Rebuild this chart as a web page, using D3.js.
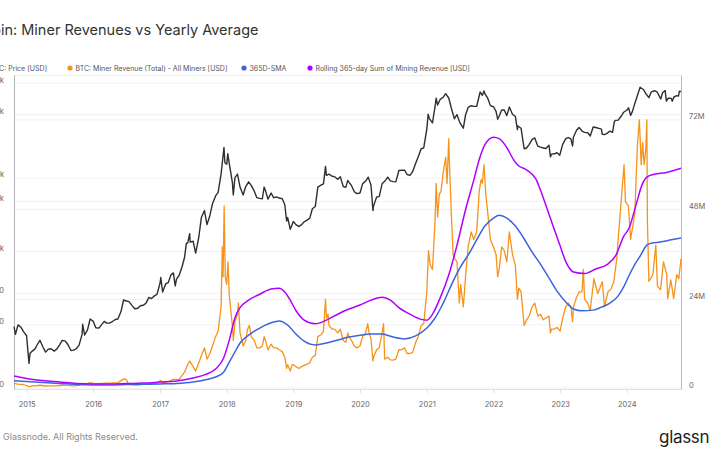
<!DOCTYPE html>
<html><head><meta charset="utf-8">
<script src="https://cdn.jsdelivr.net/npm/d3@7"></script>
<style>body{margin:0;background:#fff;} svg{display:block;font-family:Inter,"Open Sans",sans-serif;}</style>
</head><body><svg id="c" width="710" height="458"></svg>
<script>
const chartTitle = "Bitcoin: Miner Revenues vs Yearly Average";
const footerText = "© 2024 Glassnode. All Rights Reserved.";
const seriesNames = ["BTC: Price [USD]", "BTC: Miner Revenue (Total) - All Miners [USD]", "365D-SMA", "Rolling 365-day Sum of Mining Revenue [USD]"];
const priceTicks = [100, 400, 800, 2000, 6000, 10000, 40000, 80000];
const priceTickLabels = ["100", "400", "800", "2k", "6k", "10k", "40k", "80k"];
const revenueTicks = [0, 24e6, 48e6, 72e6];
const revenueTickLabels = ["0", "24M", "48M", "72M"];
const yearTicks = ["2015","2016","2017","2018","2019","2020","2021","2022","2023","2024"];

// BTC price (USD)
const priceData = [
["2014-10-24",385],["2014-11-01",325],["2014-11-15",400],["2014-12-01",380],["2014-12-15",345],
["2015-01-01",315],["2015-01-14",172],["2015-01-20",215],["2015-02-01",225],["2015-02-15",235],["2015-03-01",260],["2015-03-15",285],["2015-04-01",245],["2015-04-15",220],["2015-05-01",235],["2015-05-15",237],["2015-06-01",225],["2015-06-15",235],["2015-07-01",258],["2015-07-15",285],["2015-08-01",280],["2015-08-15",260],["2015-09-01",228],["2015-09-15",230],["2015-10-01",238],["2015-10-15",255],["2015-11-01",325],["2015-11-04",405],["2015-11-15",320],["2015-12-01",360],["2015-12-15",455],
["2016-01-01",432],["2016-01-15",375],["2016-02-01",372],["2016-02-15",400],["2016-03-01",432],["2016-03-15",415],["2016-04-01",417],["2016-04-15",430],["2016-05-01",450],["2016-05-15",455],["2016-06-01",535],["2016-06-15",690],["2016-07-01",675],["2016-07-15",665],["2016-08-01",610],["2016-08-15",570],["2016-09-01",575],["2016-09-15",608],["2016-10-01",615],["2016-10-15",640],["2016-11-01",730],["2016-11-15",712],["2016-12-01",755],["2016-12-15",780],
["2017-01-01",1000],["2017-01-05",1130],["2017-01-15",820],["2017-02-01",985],["2017-02-15",1010],["2017-03-01",1190],["2017-03-15",1250],["2017-03-25",940],["2017-04-01",1090],["2017-04-15",1180],["2017-05-01",1420],["2017-05-15",1750],["2017-05-25",2400],["2017-06-01",2400],["2017-06-12",2950],["2017-06-15",2450],["2017-07-01",2500],["2017-07-15",1930],["2017-08-01",2730],["2017-08-15",4200],["2017-09-01",4900],["2017-09-15",3600],["2017-10-01",4400],["2017-10-15",5700],["2017-11-01",6750],["2017-11-15",7300],["2017-12-01",10900],["2017-12-17",19500],["2017-12-22",14000],
["2018-01-01",13500],["2018-01-07",17000],["2018-01-15",13700],["2018-02-01",9100],["2018-02-06",6900],["2018-02-15",10100],["2018-03-01",10900],["2018-03-15",8200],["2018-04-01",6900],["2018-04-15",8300],["2018-05-01",9200],["2018-05-15",8500],["2018-06-01",7500],["2018-06-15",6500],["2018-07-01",6400],["2018-07-15",6350],["2018-07-25",8200],["2018-08-01",7600],["2018-08-15",6300],["2018-09-01",7200],["2018-09-15",6500],["2018-10-01",6600],["2018-10-15",6450],["2018-11-01",6350],["2018-11-15",5600],["2018-11-25",3900],["2018-12-01",4200],["2018-12-15",3250],
["2019-01-01",3850],["2019-01-15",3600],["2019-02-01",3450],["2019-02-15",3600],["2019-03-01",3830],["2019-03-15",3950],["2019-04-01",4150],["2019-04-15",5100],["2019-05-01",5350],["2019-05-15",8200],["2019-06-01",8550],["2019-06-15",8800],["2019-06-26",12900],["2019-07-01",10600],["2019-07-15",10900],["2019-08-01",10400],["2019-08-15",10300],["2019-09-01",9750],["2019-09-15",10300],["2019-10-01",8300],["2019-10-15",8150],["2019-10-26",9500],["2019-11-01",9150],["2019-11-15",8500],["2019-12-01",7400],["2019-12-15",7100],
["2020-01-01",7200],["2020-01-15",8800],["2020-02-01",9350],["2020-02-15",10200],["2020-03-01",8600],["2020-03-12",4900],["2020-03-15",5400],["2020-04-01",6600],["2020-04-15",6650],["2020-05-01",8800],["2020-05-15",9300],["2020-06-01",10200],["2020-06-15",9400],["2020-07-01",9250],["2020-07-15",9200],["2020-08-01",11800],["2020-08-15",11850],["2020-09-01",11900],["2020-09-15",10800],["2020-10-01",10600],["2020-10-15",11500],["2020-11-01",13800],["2020-11-15",15950],["2020-12-01",19000],["2020-12-15",19400],
["2021-01-01",29400],["2021-01-08",40500],["2021-01-15",36800],["2021-02-01",33500],["2021-02-15",48000],["2021-02-21",57500],["2021-03-01",49600],["2021-03-15",56000],["2021-04-01",58800],["2021-04-14",63500],["2021-05-01",57800],["2021-05-15",46400],["2021-06-01",36700],["2021-06-15",40200],["2021-07-01",33500],["2021-07-20",29800],["2021-08-01",39900],["2021-08-15",47000],["2021-09-01",48800],["2021-09-15",48100],["2021-10-01",48200],["2021-10-20",65900],["2021-11-01",61300],["2021-11-10",67500],["2021-11-15",63500],["2021-12-01",57200],["2021-12-15",48900],
["2022-01-01",47700],["2022-01-15",43100],["2022-01-24",36300],["2022-02-01",38700],["2022-02-15",44500],["2022-03-01",44400],["2022-03-15",39300],["2022-03-29",47500],["2022-04-15",40500],["2022-05-01",38500],["2022-05-12",28900],["2022-05-15",31300],["2022-06-01",29800],["2022-06-18",19000],["2022-07-01",19300],["2022-07-15",20800],["2022-08-01",23300],["2022-08-15",24100],["2022-09-01",20100],["2022-09-15",19700],["2022-10-01",19300],["2022-10-15",19100],["2022-11-01",20500],["2022-11-09",15900],["2022-11-15",16900],["2022-12-01",17000],["2022-12-15",17400],["2022-12-30",16500],
["2023-01-15",20900],["2023-02-01",23700],["2023-02-15",24300],["2023-03-01",23600],["2023-03-10",20200],["2023-03-15",24600],["2023-04-01",28500],["2023-04-15",30300],["2023-05-01",28000],["2023-05-15",27200],["2023-06-01",27000],["2023-06-15",25100],["2023-07-01",30600],["2023-07-15",30300],["2023-08-01",29700],["2023-08-15",29200],["2023-08-20",26100],["2023-09-01",25900],["2023-09-15",26600],["2023-10-01",28000],["2023-10-15",27200],["2023-10-25",34500],["2023-11-01",35400],["2023-11-15",35600],["2023-12-01",38700],["2023-12-15",42300],
["2024-01-01",44200],["2024-01-11",46600],["2024-01-22",39500],["2024-02-01",43100],["2024-02-15",51900],["2024-03-01",62400],["2024-03-14",73100],["2024-04-01",69700],["2024-04-15",63400],["2024-05-01",58300],["2024-05-15",66200],["2024-06-01",67800],["2024-06-15",66200],["2024-07-05",56600],["2024-07-15",64800],["2024-07-29",68200],["2024-08-05",54000],["2024-08-15",57600],["2024-09-01",57300],["2024-09-06",53900],["2024-09-15",59100],["2024-10-01",60800],["2024-10-10",60300],["2024-10-15",67000],["2024-10-24",66500]
];

// Daily miner revenue (USD millions)
const revenueData = [
["2014-10-24",1.5],["2014-11-15",1.3],["2014-12-15",1.2],["2015-01-14",0.65],["2015-02-01",0.85],["2015-02-15",0.85],["2015-03-15",1.0],["2015-04-15",0.8],["2015-05-15",0.85],["2015-06-15",0.85],["2015-07-15",1.0],["2015-08-15",0.95],["2015-09-15",0.85],["2015-10-15",0.95],["2015-11-04",1.5],["2015-11-15",1.2],["2015-12-15",1.7],
["2016-01-15",1.4],["2016-02-15",1.5],["2016-03-15",1.55],["2016-04-15",1.6],["2016-05-15",1.7],["2016-06-17",2.7],["2016-07-01",2.5],["2016-07-12",1.3],["2016-08-15",1.1],["2016-09-15",1.15],["2016-10-15",1.3],["2016-11-15",1.4],["2016-12-15",1.6],
["2017-01-05",2.3],["2017-01-15",1.7],["2017-02-15",2.0],["2017-03-15",2.6],["2017-04-15",2.6],["2017-05-15",4.5],["2017-06-01",6.5],["2017-06-12",7.5],["2017-07-01",6.0],["2017-07-15",4.8],["2017-08-01",7.0],["2017-08-20",9.5],["2017-09-01",11],["2017-09-15",8],["2017-10-01",9.5],["2017-10-15",11.5],["2017-11-01",14],["2017-11-15",15.5],["2017-12-01",22],["2017-12-08",38],["2017-12-12",30],["2017-12-18",49],["2017-12-24",30],
["2018-01-01",28],["2018-01-08",34],["2018-01-15",25],["2018-02-01",17],["2018-02-06",13],["2018-02-15",18],["2018-03-01",20],["2018-03-06",23],["2018-03-15",15],["2018-04-01",11.5],["2018-04-15",13],["2018-04-25",16],["2018-05-05",17],["2018-05-15",14],["2018-06-01",13],["2018-06-15",11],["2018-07-01",11],["2018-07-15",11.5],["2018-07-25",14],["2018-08-01",13],["2018-08-15",10.5],["2018-09-01",12],["2018-09-15",11],["2018-10-01",11],["2018-10-15",10.5],["2018-11-01",10],["2018-11-15",8.5],["2018-11-25",5.5],["2018-12-01",6.5],["2018-12-15",4.8],["2018-12-25",6.5],
["2019-01-01",6.5],["2019-01-15",6.0],["2019-02-01",5.5],["2019-02-15",6.0],["2019-03-01",6.3],["2019-03-15",6.6],["2019-04-01",7.0],["2019-04-15",8.5],["2019-05-01",9.0],["2019-05-15",14],["2019-06-01",14.5],["2019-06-15",15.5],["2019-06-26",24],["2019-07-01",19],["2019-07-10",20],["2019-07-15",17],["2019-08-01",16],["2019-08-15",16],["2019-09-01",15],["2019-09-15",16],["2019-10-01",13],["2019-10-15",12.5],["2019-10-26",15],["2019-11-01",14],["2019-11-15",13],["2019-12-01",11.5],["2019-12-15",11],
["2020-01-01",11.5],["2020-01-15",14],["2020-02-01",15],["2020-02-12",17.5],["2020-02-20",15],["2020-03-01",13.5],["2020-03-12",7.5],["2020-03-15",8.5],["2020-04-01",10.5],["2020-04-15",11],["2020-05-01",15],["2020-05-09",17.5],["2020-05-15",8],["2020-06-01",8.5],["2020-06-15",7.8],["2020-07-01",7.7],["2020-07-15",8],["2020-08-01",10.5],["2020-08-15",10.5],["2020-09-01",11],["2020-09-15",9.5],["2020-10-01",9.5],["2020-10-15",9.8],["2020-11-01",12.5],["2020-11-15",14],["2020-12-01",17],["2020-12-15",17.5],
["2021-01-01",26],["2021-01-10",37],["2021-01-20",33],["2021-02-01",32],["2021-02-15",45],["2021-02-21",55],["2021-03-01",46],["2021-03-10",52],["2021-03-20",53],["2021-04-01",58],["2021-04-14",62],["2021-04-22",55],["2021-05-01",67],["2021-05-05",60],["2021-05-15",47],["2021-05-25",36],["2021-06-01",35],["2021-06-15",34],["2021-06-28",23],["2021-07-05",28],["2021-07-20",22],["2021-08-01",30],["2021-08-15",38],["2021-09-01",42],["2021-09-15",40],["2021-10-01",42],["2021-10-15",53],["2021-10-25",56],["2021-11-01",55],["2021-11-10",60],["2021-11-20",52],["2021-12-01",47],["2021-12-15",40],
["2022-01-01",38],["2022-01-15",36],["2022-01-24",30],["2022-02-01",32],["2022-02-15",38],["2022-03-01",37],["2022-03-15",34],["2022-03-29",42],["2022-04-15",36],["2022-05-01",33],["2022-05-12",24],["2022-05-20",27],["2022-06-01",26],["2022-06-18",17],["2022-07-01",18.5],["2022-07-15",19.5],["2022-08-01",22],["2022-08-15",23],["2022-09-01",19.5],["2022-09-15",20],["2022-10-01",18.5],["2022-10-15",19],["2022-11-01",19.5],["2022-11-09",15],["2022-11-15",16],["2022-12-01",16],["2022-12-15",16.5],
["2023-01-01",15.5],["2023-01-15",19],["2023-02-01",22],["2023-02-15",23],["2023-03-01",22],["2023-03-10",18],["2023-03-15",22],["2023-04-01",24.5],["2023-04-15",26],["2023-05-01",26],["2023-05-08",32],["2023-05-15",24],["2023-06-01",23],["2023-06-15",21],["2023-07-05",29.5],["2023-07-26",25.5],["2023-08-20",28.7],["2023-09-01",22],["2023-09-20",26],["2023-10-05",26.6],["2023-10-22",28.7],["2023-11-07",34.8],["2023-11-18",42],["2023-12-17",60],["2023-12-25",50],
["2024-01-10",49],["2024-01-22",40],["2024-02-14",47],["2024-02-28",65],["2024-03-10",72],["2024-03-20",60],["2024-03-28",66],["2024-04-05",60],["2024-04-14",64],["2024-04-20",72],["2024-04-23",45],["2024-05-01",28.8],["2024-05-23",30.6],["2024-06-08",38.5],["2024-06-17",27.4],["2024-07-04",26.6],["2024-07-20",34],["2024-08-07",30.6],["2024-08-12",24.2],["2024-08-29",29.2],["2024-09-14",24.2],["2024-10-01",30.6],["2024-10-12",29.5],["2024-10-24",34.8]
];

// 365-day simple moving average of miner revenue (USD millions)
const smaData = [
["2014-10-24",2.2],["2015-01-01",2.0],["2015-04-01",1.75],["2015-07-01",1.5],["2015-10-01",1.2],["2016-01-01",1.07],["2016-04-01",1.07],["2016-07-01",1.2],["2016-10-01",1.25],["2017-01-01",1.35],["2017-04-01",1.5],["2017-07-01",1.9],["2017-09-01",2.4],["2017-11-01",3.2],["2017-12-15",4.5],
["2018-01-15",7.2],["2018-02-15",9.9],["2018-03-15",12.3],["2018-05-01",14.4],["2018-07-01",16.3],["2018-09-01",17.7],["2018-10-15",18.2],["2018-12-01",17.1],["2019-01-15",14.7],["2019-03-01",12.8],["2019-05-01",11.8],["2019-07-01",12.3],["2019-09-01",13.1],["2019-11-01",13.9],
["2020-01-01",14.4],["2020-03-01",14.7],["2020-05-01",14.7],["2020-07-01",13.9],["2020-09-01",13.4],["2020-11-01",14.2],["2021-01-01",16.3],["2021-02-15",19],["2021-04-01",23],["2021-05-15",27.8],["2021-07-01",32.4],["2021-08-15",35.8],["2021-10-01",39.9],["2021-11-15",43.6],
["2022-01-01",45.7],["2022-02-01",46.5],["2022-03-15",45.7],["2022-05-01",43.6],["2022-06-15",40.4],["2022-08-01",36.6],["2022-09-15",33.4],["2022-11-01",29.7],["2022-12-15",26.2],["2023-02-01",23.3],["2023-03-15",21.4],["2023-05-01",20.9],["2023-07-01",21.1],["2023-08-15",21.9],["2023-10-01",23],["2023-11-15",24.9],["2023-12-15",27.3],
["2024-01-15",30.5],["2024-02-15",33.4],["2024-03-15",35.6],["2024-04-20",38.5],["2024-05-15",39],["2024-07-01",39.3],["2024-09-01",39.9],["2024-10-24",40.4]
];

// Rolling 365-day sum of mining revenue (USD billions)
const rollingSumData = [
["2014-10-24",0.88],["2015-01-01",0.71],["2015-04-01",0.57],["2015-07-01",0.47],["2015-10-01",0.37],["2016-01-01",0.34],["2016-04-01",0.34],["2016-07-01",0.37],["2016-10-01",0.40],["2017-01-01",0.47],["2017-04-01",0.54],["2017-07-01",0.74],["2017-09-01",0.95],["2017-11-01",1.35],["2017-12-15",2.09],
["2018-01-15",3.3],["2018-02-15",4.8],["2018-03-15",5.5],["2018-05-01",6.0],["2018-07-01",6.4],["2018-09-01",6.75],["2018-10-15",6.8],["2018-11-15",6.55],["2018-12-15",6.0],["2019-01-15",5.3],["2019-03-01",4.65],["2019-05-01",4.4],["2019-07-01",4.65],["2019-09-01",5.05],["2019-11-01",5.4],
["2020-01-01",5.67],["2020-03-01",6.0],["2020-05-01",6.2],["2020-06-15",6.0],["2020-08-01",5.5],["2020-10-01",5.05],["2020-12-01",4.7],["2021-01-01",4.65],["2021-02-01",5.05],["2021-03-15",6.15],["2021-05-01",7.7],["2021-06-15",9.7],["2021-08-01",12.1],["2021-09-15",14.1],["2021-10-15",15.5],["2021-11-15",16.5],
["2022-01-01",17.0],["2022-02-01",16.9],["2022-03-15",16.3],["2022-04-20",15.5],["2022-05-15",15.1],["2022-07-01",14.8],["2022-08-20",14.2],["2022-10-01",12.9],["2022-11-15",11.3],["2022-12-31",9.7],["2023-02-01",8.6],["2023-03-15",7.9],["2023-05-15",7.8],["2023-07-15",8.1],["2023-09-15",8.4],["2023-11-01",9.0],["2023-12-15",10.3],
["2024-01-15",10.9],["2024-02-20",12.4],["2024-03-25",13.8],["2024-04-20",14.3],["2024-06-01",14.5],["2024-08-01",14.6],["2024-10-24",14.9]
];

const colors = {price:"#2f2f2f", revenue:"#f7931a", sma:"#3d63dd", sum:"#b100ff"};
const legendColors = ["#2f2f2f", "#f7931a", "#3d63dd", "#b100ff"];

const parse = d3.timeParse("%Y-%m-%d");
const svg = d3.select("#c");
const L = 14, R = 681, T = 75, B = 389;

const x = d3.scaleTime().domain([parse("2014-10-24"), parse("2024-10-24")]).range([L, R]);
const yPrice = d3.scaleLog().domain([98, 95700]).range([B, T]);
const yRev = d3.scaleLinear().domain([0, 84e6]).range([B, T]);
const ySum = d3.scaleLinear().domain([0, 21.2e9]).range([B, T]);

// gridlines
const grid = svg.append("g");
grid.selectAll("line.gp").data(priceTicks).join("line")
  .attr("x1", L).attr("x2", R).attr("y1", d => yPrice(d)).attr("y2", d => yPrice(d))
  .attr("stroke", "#f0f0f0").attr("stroke-width", 1);
grid.selectAll("line.gr").data(revenueTicks.slice(1)).join("line")
  .attr("x1", L).attr("x2", R).attr("y1", d => yRev(d)).attr("y2", d => yRev(d))
  .attr("stroke", "#f0f0f0").attr("stroke-width", 1);
svg.append("line").attr("x1", L).attr("x2", R).attr("y1", T + 0.5).attr("y2", T + 0.5).attr("stroke", "#ececec");

// x axis
const xAxis = d3.axisBottom(x).tickValues(yearTicks.map(y => parse(y + "-01-01"))).tickFormat(d3.timeFormat("%Y")).tickSize(4).tickSizeOuter(0);
const gx = svg.append("g").attr("transform", `translate(0,${B})`).call(xAxis);
gx.select(".domain").attr("stroke", "#e3e3e3");
gx.selectAll(".tick line").attr("stroke", "#dedede");
gx.selectAll(".tick text").attr("fill", "#666").attr("font-size", 7.5).attr("font-family", "Inter").attr("dy", "1.45em");

// left axis
const yAxisL = d3.axisLeft(yPrice).tickValues(priceTicks).tickFormat((d, i) => priceTickLabels[i]).tickSize(0);
const gl = svg.append("g").attr("transform", `translate(${L},0)`).call(yAxisL);
gl.select(".domain").attr("stroke", "#b5b5b5");
gl.selectAll(".tick text").attr("x", 4 - L).attr("dy", "-0.15em").attr("fill", "#666").attr("font-size", 7.5).attr("font-family", "Inter");

// right axis
const yAxisR = d3.axisRight(yRev).tickValues(revenueTicks).tickFormat((d, i) => revenueTickLabels[i]).tickSize(0);
const gr = svg.append("g").attr("transform", `translate(${R},0)`).call(yAxisR);
gr.select(".domain").attr("stroke", "#f7931a").attr("stroke-opacity", 0.75);
gr.selectAll(".tick text").attr("x", 8).attr("dy", "-0.15em").attr("fill", "#666").attr("font-size", 7.5).attr("font-family", "Inter");

// lines
const linePrice = d3.line().x(d => x(parse(d[0]))).y(d => yPrice(d[1]));
const lineRev = d3.line().x(d => x(parse(d[0]))).y(d => yRev(d[1] * 1e6));
const lineSum = d3.line().x(d => x(parse(d[0]))).y(d => ySum(d[1] * 1e9)).curve(d3.curveMonotoneX);
const lineSma = d3.line().x(d => x(parse(d[0]))).y(d => yRev(d[1] * 1e6)).curve(d3.curveMonotoneX);

svg.append("path").datum(priceData).attr("d", linePrice).attr("fill", "none").attr("stroke", colors.price).attr("stroke-width", 1.4).attr("stroke-linejoin", "round");
svg.append("path").datum(revenueData).attr("d", lineRev).attr("fill", "none").attr("stroke", colors.revenue).attr("stroke-width", 1.3).attr("stroke-linejoin", "round");
svg.append("path").datum(smaData).attr("d", lineSma).attr("fill", "none").attr("stroke", colors.sma).attr("stroke-width", 1.5);
svg.append("path").datum(rollingSumData).attr("d", lineSum).attr("fill", "none").attr("stroke", colors.sum).attr("stroke-width", 1.5);

// helper: measure width of a prefix including trailing spaces
function prefixWidth(prefix, size) {
  const a = svg.append("text").attr("font-size", size).attr("font-family", "Inter").text(prefix + "X");
  const b = svg.append("text").attr("font-size", size).attr("font-family", "Inter").text("X");
  const w = a.node().getComputedTextLength() - b.node().getComputedTextLength();
  a.remove(); b.remove();
  return w;
}

// title
svg.append("text").attr("x", 0.5 - prefixWidth("Bitco", 14.5)).attr("y", 34.5).attr("font-size", 14.5).attr("fill", "#333").attr("font-family", "Inter").text(chartTitle);

// legend
const legendX = [null, 70, 244, 310];
const lg = svg.append("g").attr("font-family", "Inter").attr("font-size", 7).attr("fill", "#555");
seriesNames.forEach((name, i) => {
  let cx;
  const t = lg.append("text").attr("y", 68).attr("dominant-baseline", "central").text(name);
  if (i === 0) {
    const w = t.node().getComputedTextLength();
    t.attr("x", 47 - w);
    cx = 47 - w - 6;
  } else {
    cx = legendX[i];
    t.attr("x", cx + 5.5);
  }
  lg.append("circle").attr("cx", cx).attr("cy", 68).attr("r", 2.6).attr("fill", legendColors[i]);
});

// footer
svg.append("text").attr("x", 3 - prefixWidth("© 2024 ", 9)).attr("y", 440).attr("font-size", 9).attr("fill", "#8a8a8a").attr("font-family", "Inter").text(footerText);
svg.append("text").attr("x", 659).attr("y", 443).attr("font-size", 17).attr("font-weight", 400).attr("fill", "#1c1c1c").attr("font-family", "Inter").attr("letter-spacing", "-0.3").text("glassnode");
</script></body></html>
